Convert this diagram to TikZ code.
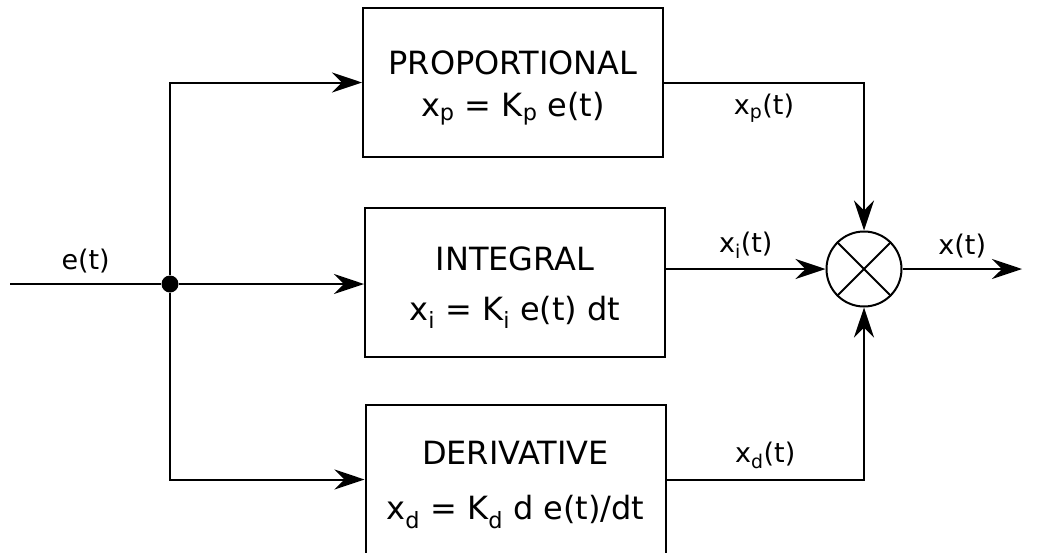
\documentclass[tikz,border=0pt]{standalone}
\usepackage{fontspec}
\setmainfont{DejaVu Sans}
\usetikzlibrary{arrows.meta,positioning,calc}
\newcommand{\topgap}{\rule{0pt}{34pt}}
\tikzset{block/.style={draw,line width=2pt,minimum width=300pt,minimum height=149pt,
    align=center,inner sep=0pt,font=\fontsize{32}{38}\selectfont},
  flow/.style={-{Stealth[length=30pt,width=20pt,inset=10pt]},line width=2pt},
  wire/.style={line width=2pt},
  sig/.style={font=\fontsize{27}{32}\selectfont,inner sep=0pt},
  sumnode/.style={circle,draw,line width=2pt,minimum size=75pt,inner sep=0pt},
  splitdot/.style={circle,fill,minimum size=17pt,inner sep=0pt}}

\begin{document}
\begin{tikzpicture}[x=1pt,y=-1pt]
\useasboundingbox (0,0) rectangle (1044,552);
\node[block] (prop) at (513,82.5)
 {\topgap PROPORTIONAL\\[4pt] x\textsubscript{p} = K\textsubscript{p} e(t)};
\node[block] (integ) at (515,282.5)
 {\topgap INTEGRAL\\[12pt] x\textsubscript{i} = K\textsubscript{i} e(t) dt};
\node[block] (deriv) at (515.5,479.5)
 {\topgap DERIVATIVE\\[17pt] x\textsubscript{d} = K\textsubscript{d} d e(t)/dt};
\node[sumnode] (sum) at (864,269) {};
\draw[wire] (sum.north west)--(sum.south east) (sum.north east)--(sum.south west);
\node[splitdot] (split) at (170,284) {};
\coordinate (in) at (10,284);
\coordinate (out) at (1022,269);
% input and branches
\draw[wire] (in) -- node[sig,above=10pt]{e(t)} (split);
\draw[flow] (split) -- (split -| integ.west);
\draw[flow] (split) |- (prop.west);
\draw[flow] (split) |- (deriv.west);
% outputs to the junction
\draw[flow] (prop.east) -| node[pos=0.25,sig,below=11pt]{x\textsubscript{p}(t)} (sum.north);
\draw[flow] (integ.east |- sum) -- node[sig,above=10pt]{x\textsubscript{i}(t)} (sum.west);
\draw[flow] (deriv.east) -| node[pos=0.25,sig,above=10pt]{x\textsubscript{d}(t)} (sum.south);
\draw[flow] (sum.east) -- node[sig,above=10pt]{x(t)} (out);
\end{tikzpicture}
\end{document}
